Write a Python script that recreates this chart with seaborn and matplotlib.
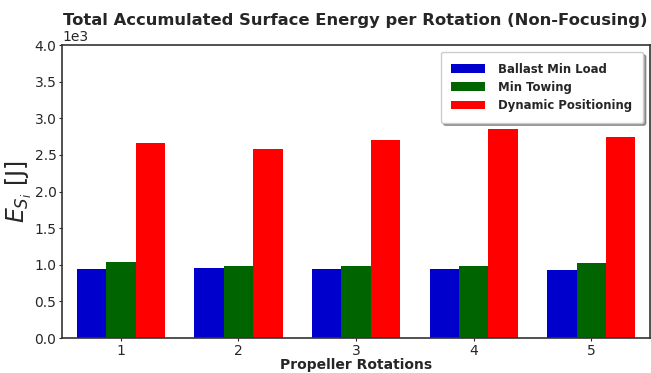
import matplotlib
matplotlib.use("Agg")
import matplotlib.pyplot as plt
import seaborn as sns
import pandas as pd

rotations = ["1", "2", "3", "4", "5"]
ballast_min_load = [945, 959, 945, 945, 930]
min_towing = [1040, 986, 986, 986, 1030]
dynamic_positioning = [2660, 2575, 2700, 2860, 2750]
series_names = ["Ballast Min Load", "Min Towing", "Dynamic Positioning"]
colors = ["#0000CD", "#006400", "#FF0000"]

rows = []
for name, vals in zip(series_names, [ballast_min_load, min_towing, dynamic_positioning]):
    for r, v in zip(rotations, vals):
        rows.append({"Rotation": r, "Energy": v, "Series": name})
df = pd.DataFrame(rows)

sns.set_style("ticks")
plt.rcParams["font.family"] = ["DejaVu Sans"]

fig = plt.figure(figsize=(6.51, 3.73), dpi=100)
ax = fig.add_axes([62/651, 1-338/373, (650-62)/651, (338-45)/373])

sns.barplot(data=df, x="Rotation", y="Energy", hue="Series", hue_order=series_names,
            order=rotations, palette=colors, saturation=1, width=0.75, linewidth=0,
            ax=ax, errorbar=None)

ax.set_xlim(-0.5, 4.5)
ax.set_ylim(0, 4000)
ax.set_yticks([0, 500, 1000, 1500, 2000, 2500, 3000, 3500, 4000])
ax.ticklabel_format(style="sci", axis="y", scilimits=(0, 0))
ax.yaxis.get_offset_text().set_fontsize(10)
ax.yaxis.get_offset_text().set_color("#262626")
for s in ax.spines.values():
    s.set_visible(True)
    s.set_color("#333333")
    s.set_linewidth(1.2)
ax.tick_params(labelsize=10, colors="#262626", length=2, pad=2)

ax.set_title("Total Accumulated Surface Energy per Rotation (Non-Focusing)",
             fontsize=11.8, fontweight="bold", color="#262626", y=1.068, pad=0,
             loc="left", x=0.001)
ax.set_xlabel("Propeller Rotations", fontsize=10, fontweight="bold", color="#262626", labelpad=0)
ax.set_ylabel(r"$E_{S_i}$ [J]", fontsize=17, color="#262626", labelpad=0)

leg = ax.legend(loc="upper right", prop={"weight": "bold", "size": 8.4},
                shadow=True, fancybox=True, handlelength=2.9, handleheight=0.75,
                borderpad=0.9, labelspacing=0.45, handletextpad=1.15, frameon=True,
                borderaxespad=0.6)
for t in leg.get_texts():
    t.set_color("#262626")

fig.savefig("out.png", dpi=100)
